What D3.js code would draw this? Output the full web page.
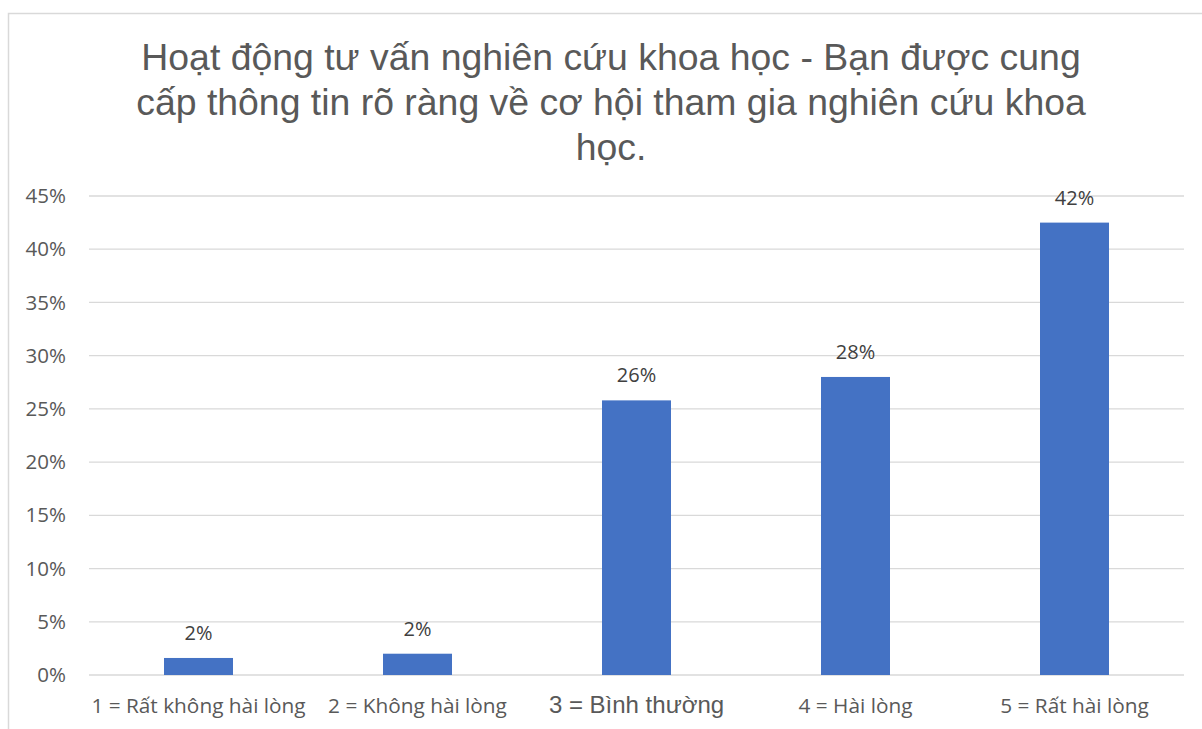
<!DOCTYPE html>
<html><head><meta charset="utf-8">
<script src="https://cdn.jsdelivr.net/npm/d3@7"></script>
<style>body{margin:0;background:#fff}svg{display:block}</style>
</head><body>
<script>
const categories = ["1 = Rất không hài lòng","2 = Không hài lòng","3 = Bình thường","4 = Hài lòng","5 = Rất hài lòng"];
const values = [0.016, 0.02, 0.258, 0.28, 0.425];
const labels = ["2%","2%","26%","28%","42%"];
const yTicks = [0,0.05,0.10,0.15,0.20,0.25,0.30,0.35,0.40,0.45];
const titleLines = ["Hoạt động tư vấn nghiên cứu khoa học - Bạn được cung","cấp thông tin rõ ràng về cơ hội tham gia nghiên cứu khoa","học."];

const W=1202,H=729;
const svg=d3.select("body").append("svg").attr("width",W).attr("height",H);
svg.append("rect").attr("x",8.5).attr("y",13.5).attr("width",1200).attr("height",730)
  .attr("fill","#fff").attr("stroke","#d9d9d9").attr("stroke-width",1.5);

const x=d3.scaleBand().domain(categories).range([89,1184]).paddingInner(0.685).paddingOuter(0.3425);
const y=d3.scaleLinear().domain([0,0.45]).range([675,196]);

const g=svg.append("g");
g.selectAll("line.grid").data(yTicks).join("line").attr("class","grid")
  .attr("x1",89).attr("x2",1184).attr("y1",d=>y(d)).attr("y2",d=>y(d))
  .attr("stroke","#d9d9d9").attr("stroke-width",1.3);

const yAxis=d3.axisLeft(y).tickValues(yTicks).tickFormat(d3.format(".0%")).tickSize(0).tickPadding(0);
svg.append("g").attr("transform","translate(66,0)").call(yAxis)
  .call(s=>s.select(".domain").remove())
  .selectAll("text").attr("fill","#595959").style("font-family","'Open Sans',sans-serif").style("font-size","20.5px");

g.selectAll("rect.bar").data(values).join("rect").attr("class","bar")
  .attr("x",(d,i)=>x(categories[i])).attr("width",x.bandwidth())
  .attr("y",d=>y(d)).attr("height",d=>y(0)-y(d)).attr("fill","#4472c4");

g.selectAll("text.lbl").data(values).join("text").attr("class","lbl")
  .attr("x",(d,i)=>x(categories[i])+x.bandwidth()/2).attr("y",d=>y(d)-18)
  .attr("text-anchor","middle").attr("fill","#404040")
  .style("font-family","'Open Sans',sans-serif").style("font-size","20px")
  .text((d,i)=>labels[i]);

const xAxis=d3.axisBottom(x).tickSize(0).tickPadding(0);
svg.append("g").attr("transform","translate(0,675)").call(xAxis)
  .call(s=>s.select(".domain").remove())
  .selectAll("text").attr("y",38).attr("dy",0).attr("fill","#595959")
  .style("font-family",(d,i)=>i===2?"'Liberation Sans',Arial,sans-serif":"'Open Sans',sans-serif")
  .style("font-size",(d,i)=>i===2?"24px":"20.8px");

svg.append("g").selectAll("text").data(titleLines).join("text")
  .attr("x",611).attr("y",(d,i)=>70+i*45).attr("text-anchor","middle")
  .attr("fill","#595959").style("font-family","'Liberation Sans',Arial,sans-serif").style("font-size","37.4px")
  .text(d=>d);
</script>
</body></html>
